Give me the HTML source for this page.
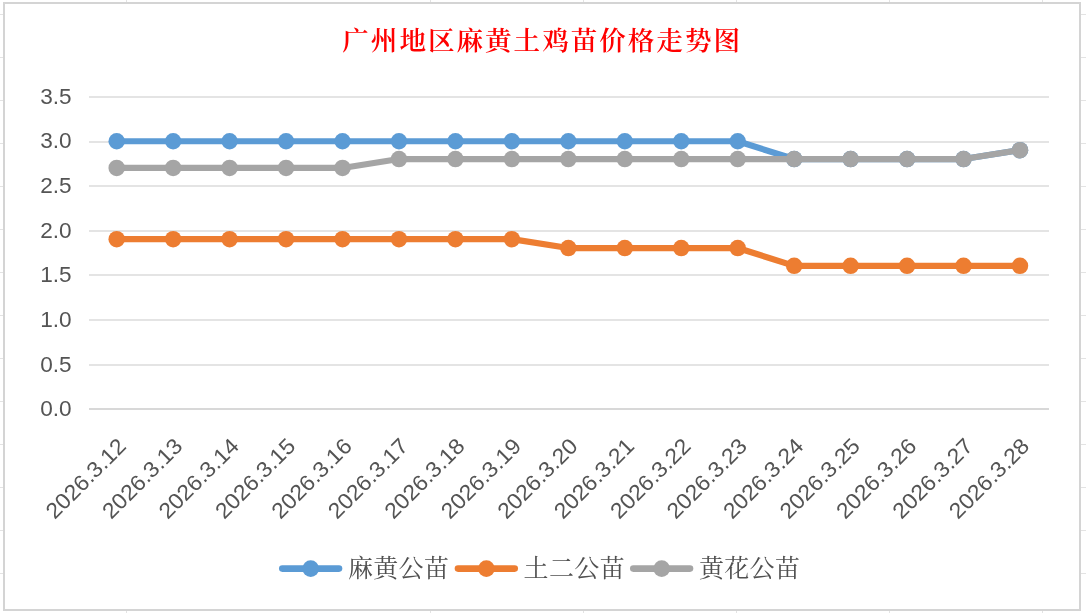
<!DOCTYPE html>
<html lang="zh-CN"><head><meta charset="utf-8"><title>广州地区麻黄土鸡苗价格走势图</title>
<style>
html,body{margin:0;padding:0;background:#fff;}
body{width:1086px;height:613px;overflow:hidden;position:relative;}
svg{position:absolute;left:0;top:0;display:block;}
.num{font-family:"Liberation Sans",sans-serif;font-size:23.1px;fill:#545454;}
.ynum{font-family:"Liberation Sans",sans-serif;font-size:22.6px;fill:#545454;}
.ttl{font-family:"Liberation Serif","Noto Serif CJK SC",serif;font-weight:600;font-size:26.6px;fill:#FF0000;}
.leg{font-family:"Liberation Serif","Noto Serif CJK SC",serif;font-weight:400;font-size:25px;fill:#505050;}
</style></head><body>
<svg width="1086" height="613" viewBox="0 0 1086 613">
<rect x="0" y="0" width="1086" height="613" fill="#ffffff"/>
<g stroke="#E3E3E3" stroke-width="1" shape-rendering="crispEdges">
<line x1="126.5" y1="0" x2="126.5" y2="613"/>
<line x1="430.5" y1="0" x2="430.5" y2="613"/>
<line x1="583.5" y1="0" x2="583.5" y2="613"/>
<line x1="736.5" y1="0" x2="736.5" y2="613"/>
<line x1="889.5" y1="0" x2="889.5" y2="613"/>
<line x1="1042.5" y1="0" x2="1042.5" y2="613"/>
<line x1="0" y1="14.5" x2="1086" y2="14.5"/>
<line x1="0" y1="57.5" x2="1086" y2="57.5"/>
<line x1="0" y1="100.5" x2="1086" y2="100.5"/>
<line x1="0" y1="143.5" x2="1086" y2="143.5"/>
<line x1="0" y1="186.5" x2="1086" y2="186.5"/>
<line x1="0" y1="229.5" x2="1086" y2="229.5"/>
<line x1="0" y1="272.5" x2="1086" y2="272.5"/>
<line x1="0" y1="315.5" x2="1086" y2="315.5"/>
<line x1="0" y1="358.5" x2="1086" y2="358.5"/>
<line x1="0" y1="401.5" x2="1086" y2="401.5"/>
<line x1="0" y1="444.5" x2="1086" y2="444.5"/>
<line x1="0" y1="487.5" x2="1086" y2="487.5"/>
<line x1="0" y1="530.5" x2="1086" y2="530.5"/>
<line x1="0" y1="573.5" x2="1086" y2="573.5"/>
</g>
<rect x="4" y="3" width="1076" height="607" fill="#ffffff" stroke="#D4D4D4" stroke-width="2"/>
<text class="ttl" y="50.2" x="342.30 370.85 399.40 427.95 456.50 485.05 513.60 542.15 570.70 599.25 627.80 656.35 684.90 713.45">广州地区麻黄土鸡苗价格走势图</text>
<g stroke="#E4E4E4" stroke-width="2">
<line x1="89" y1="97.00" x2="1049" y2="97.00"/>
<line x1="89" y1="142.00" x2="1049" y2="142.00"/>
<line x1="89" y1="186.00" x2="1049" y2="186.00"/>
<line x1="89" y1="231.00" x2="1049" y2="231.00"/>
<line x1="89" y1="275.00" x2="1049" y2="275.00"/>
<line x1="89" y1="320.00" x2="1049" y2="320.00"/>
<line x1="89" y1="365.00" x2="1049" y2="365.00"/>
</g>
<line x1="89" y1="409.00" x2="1049" y2="409.00" stroke="#D8D8D8" stroke-width="2"/>
<text class="ynum" x="71.7" y="103.80" text-anchor="end">3.5</text>
<text class="ynum" x="71.7" y="148.42" text-anchor="end">3.0</text>
<text class="ynum" x="71.7" y="193.04" text-anchor="end">2.5</text>
<text class="ynum" x="71.7" y="237.66" text-anchor="end">2.0</text>
<text class="ynum" x="71.7" y="282.28" text-anchor="end">1.5</text>
<text class="ynum" x="71.7" y="326.90" text-anchor="end">1.0</text>
<text class="ynum" x="71.7" y="371.52" text-anchor="end">0.5</text>
<text class="ynum" x="71.7" y="416.14" text-anchor="end">0.0</text>
<text class="num" transform="translate(127.40 447.50) rotate(-45) scale(1 0.95)" text-anchor="end">2026.3.12</text>
<text class="num" transform="translate(183.86 447.50) rotate(-45) scale(1 0.95)" text-anchor="end">2026.3.13</text>
<text class="num" transform="translate(240.31 447.50) rotate(-45) scale(1 0.95)" text-anchor="end">2026.3.14</text>
<text class="num" transform="translate(296.77 447.50) rotate(-45) scale(1 0.95)" text-anchor="end">2026.3.15</text>
<text class="num" transform="translate(353.22 447.50) rotate(-45) scale(1 0.95)" text-anchor="end">2026.3.16</text>
<text class="num" transform="translate(409.68 447.50) rotate(-45) scale(1 0.95)" text-anchor="end">2026.3.17</text>
<text class="num" transform="translate(466.14 447.50) rotate(-45) scale(1 0.95)" text-anchor="end">2026.3.18</text>
<text class="num" transform="translate(522.59 447.50) rotate(-45) scale(1 0.95)" text-anchor="end">2026.3.19</text>
<text class="num" transform="translate(579.05 447.50) rotate(-45) scale(1 0.95)" text-anchor="end">2026.3.20</text>
<text class="num" transform="translate(635.50 447.50) rotate(-45) scale(1 0.95)" text-anchor="end">2026.3.21</text>
<text class="num" transform="translate(691.96 447.50) rotate(-45) scale(1 0.95)" text-anchor="end">2026.3.22</text>
<text class="num" transform="translate(748.42 447.50) rotate(-45) scale(1 0.95)" text-anchor="end">2026.3.23</text>
<text class="num" transform="translate(804.87 447.50) rotate(-45) scale(1 0.95)" text-anchor="end">2026.3.24</text>
<text class="num" transform="translate(861.33 447.50) rotate(-45) scale(1 0.95)" text-anchor="end">2026.3.25</text>
<text class="num" transform="translate(917.78 447.50) rotate(-45) scale(1 0.95)" text-anchor="end">2026.3.26</text>
<text class="num" transform="translate(974.24 447.50) rotate(-45) scale(1 0.95)" text-anchor="end">2026.3.27</text>
<text class="num" transform="translate(1030.70 447.50) rotate(-45) scale(1 0.95)" text-anchor="end">2026.3.28</text>
<polyline points="116.70,141.25 173.16,141.25 229.61,141.25 286.07,141.25 342.52,141.25 398.98,141.25 455.44,141.25 511.89,141.25 568.35,141.25 624.80,141.25 681.26,141.25 737.72,141.25 794.17,159.05 850.63,159.05 907.08,159.05 963.54,159.05 1020.00,150.15" fill="none" stroke="#5B9BD5" stroke-width="6.2" stroke-linejoin="round" stroke-linecap="round"/>
<g fill="#5B9BD5">
<circle cx="116.70" cy="141.25" r="8.25"/>
<circle cx="173.16" cy="141.25" r="8.25"/>
<circle cx="229.61" cy="141.25" r="8.25"/>
<circle cx="286.07" cy="141.25" r="8.25"/>
<circle cx="342.52" cy="141.25" r="8.25"/>
<circle cx="398.98" cy="141.25" r="8.25"/>
<circle cx="455.44" cy="141.25" r="8.25"/>
<circle cx="511.89" cy="141.25" r="8.25"/>
<circle cx="568.35" cy="141.25" r="8.25"/>
<circle cx="624.80" cy="141.25" r="8.25"/>
<circle cx="681.26" cy="141.25" r="8.25"/>
<circle cx="737.72" cy="141.25" r="8.25"/>
<circle cx="794.17" cy="159.05" r="8.25"/>
<circle cx="850.63" cy="159.05" r="8.25"/>
<circle cx="907.08" cy="159.05" r="8.25"/>
<circle cx="963.54" cy="159.05" r="8.25"/>
<circle cx="1020.00" cy="150.15" r="8.25"/>
</g>
<polyline points="116.70,239.15 173.16,239.15 229.61,239.15 286.07,239.15 342.52,239.15 398.98,239.15 455.44,239.15 511.89,239.15 568.35,248.05 624.80,248.05 681.26,248.05 737.72,248.05 794.17,265.85 850.63,265.85 907.08,265.85 963.54,265.85 1020.00,265.85" fill="none" stroke="#ED7D31" stroke-width="6.2" stroke-linejoin="round" stroke-linecap="round"/>
<g fill="#ED7D31">
<circle cx="116.70" cy="239.15" r="8.25"/>
<circle cx="173.16" cy="239.15" r="8.25"/>
<circle cx="229.61" cy="239.15" r="8.25"/>
<circle cx="286.07" cy="239.15" r="8.25"/>
<circle cx="342.52" cy="239.15" r="8.25"/>
<circle cx="398.98" cy="239.15" r="8.25"/>
<circle cx="455.44" cy="239.15" r="8.25"/>
<circle cx="511.89" cy="239.15" r="8.25"/>
<circle cx="568.35" cy="248.05" r="8.25"/>
<circle cx="624.80" cy="248.05" r="8.25"/>
<circle cx="681.26" cy="248.05" r="8.25"/>
<circle cx="737.72" cy="248.05" r="8.25"/>
<circle cx="794.17" cy="265.85" r="8.25"/>
<circle cx="850.63" cy="265.85" r="8.25"/>
<circle cx="907.08" cy="265.85" r="8.25"/>
<circle cx="963.54" cy="265.85" r="8.25"/>
<circle cx="1020.00" cy="265.85" r="8.25"/>
</g>
<polyline points="116.70,167.95 173.16,167.95 229.61,167.95 286.07,167.95 342.52,167.95 398.98,159.05 455.44,159.05 511.89,159.05 568.35,159.05 624.80,159.05 681.26,159.05 737.72,159.05 794.17,159.05 850.63,159.05 907.08,159.05 963.54,159.05 1020.00,150.15" fill="none" stroke="#A5A5A5" stroke-width="6.2" stroke-linejoin="round" stroke-linecap="round"/>
<g fill="#A5A5A5">
<circle cx="116.70" cy="167.95" r="8.25"/>
<circle cx="173.16" cy="167.95" r="8.25"/>
<circle cx="229.61" cy="167.95" r="8.25"/>
<circle cx="286.07" cy="167.95" r="8.25"/>
<circle cx="342.52" cy="167.95" r="8.25"/>
<circle cx="398.98" cy="159.05" r="8.25"/>
<circle cx="455.44" cy="159.05" r="8.25"/>
<circle cx="511.89" cy="159.05" r="8.25"/>
<circle cx="568.35" cy="159.05" r="8.25"/>
<circle cx="624.80" cy="159.05" r="8.25"/>
<circle cx="681.26" cy="159.05" r="8.25"/>
<circle cx="737.72" cy="159.05" r="8.25"/>
<circle cx="794.17" cy="159.05" r="8.25"/>
<circle cx="850.63" cy="159.05" r="8.25"/>
<circle cx="907.08" cy="159.05" r="8.25"/>
<circle cx="963.54" cy="159.05" r="8.25"/>
<circle cx="1020.00" cy="150.15" r="8.25"/>
</g>
<line x1="282.3" y1="568.6" x2="339.0" y2="568.6" stroke="#5B9BD5" stroke-width="6.6" stroke-linecap="round"/>
<circle cx="310.7" cy="568.6" r="8.3" fill="#5B9BD5"/>
<text class="leg" y="576.6" x="347.90 373.25 398.60 423.95">麻黄公苗</text>
<line x1="458.0" y1="568.6" x2="514.7" y2="568.6" stroke="#ED7D31" stroke-width="6.6" stroke-linecap="round"/>
<circle cx="486.4" cy="568.6" r="8.3" fill="#ED7D31"/>
<text class="leg" y="576.6" x="523.60 548.95 574.30 599.65">土二公苗</text>
<line x1="633.3" y1="568.6" x2="690.0" y2="568.6" stroke="#A5A5A5" stroke-width="6.6" stroke-linecap="round"/>
<circle cx="661.7" cy="568.6" r="8.3" fill="#A5A5A5"/>
<text class="leg" y="576.6" x="698.90 724.25 749.60 774.95">黄花公苗</text>
</svg>
</body></html>
